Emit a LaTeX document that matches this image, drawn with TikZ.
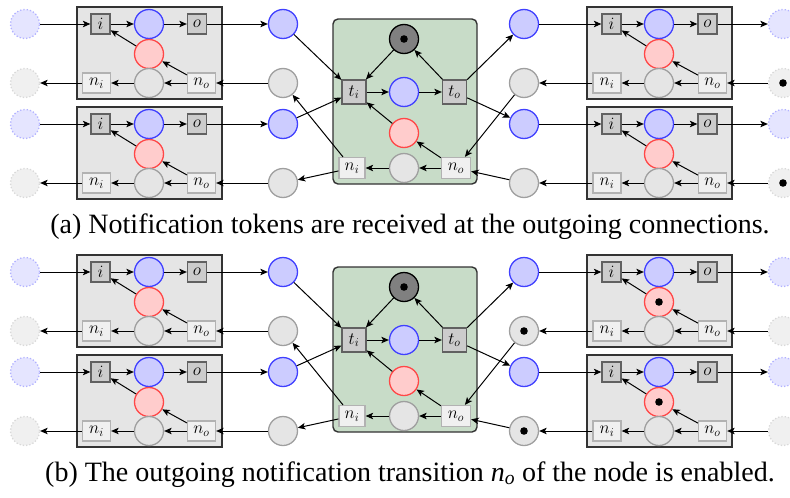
\documentclass[tikz,border=0pt]{standalone}
\usepackage{fontspec}
\newfontfamily\capfont{Liberation Serif}
\usetikzlibrary{arrows.meta}

\definecolor{netgreen}{RGB}{200,220,200}

\tikzset{
  lbl/.style={font=\fontsize{18}{21}\selectfont},
  place/.style={circle, draw, line width=1.3pt, minimum size=29pt, inner sep=0pt},
  bpl/.style={place, fill=blue!20, draw=blue!75},
  rpl/.style={place, fill=red!20, draw=red!72},
  gpl/.style={place, fill=gray!20, draw=gray!75},
  dbpl/.style={place, fill=blue!10, draw=blue!30, dotted},
  dgpl/.style={place, fill=gray!12, draw=gray!30, dotted},
  kpl/.style={place, fill=gray, draw=black},
  tok/.style={path picture={\fill[black] (path picture bounding box.center) circle (3.8pt);}},
  notok/.style={},
  tr/.style={rectangle, draw=black!62, fill=gray!40, line width=1.3pt,
             minimum width=19pt, minimum height=20pt, inner sep=0pt, lbl},
  ttr/.style={tr, minimum width=24pt, minimum height=24pt},
  ntr/.style={rectangle, draw=gray!60, fill=gray!12, line width=1.3pt,
              minimum width=28pt, minimum height=20pt, inner sep=0pt, lbl},
  modbox/.style={rectangle, draw=black!80, fill=gray!20, line width=1.4pt,
                 minimum width=145pt, minimum height=92pt, inner sep=0pt},
  netbox/.style={rectangle, draw=black!80, fill=netgreen, line width=1.4pt,
                 rounded corners=5pt, minimum width=144pt, minimum height=165pt, inner sep=0pt},
  arr/.style={-{Stealth[length=7.5pt,width=6.5pt,inset=1.8pt]}, line width=1pt, black},
  capt/.style={font=\capfont\fontsize{28}{32}\selectfont, anchor=base, inner sep=0pt},
}

% #1 name prefix, #2 vertical offset, #3 token style of the outer notification places,
% #4 token style of the right-hand notification places, #5 caption
\newcommand\netpanel[5]{%
\begin{scope}[yshift=-#2pt, name prefix=#1-]
  % neighbouring modules on the left
  \foreach \dy/\k in {0/1,100/2}{
    \node[modbox] (Lbox\k) at (149.5,53+\dy) {};
    \node[dbpl] (Ldb\k) at (25,24+\dy) {};
    \node[dgpl] (Ldg\k) at (25,83+\dy) {};
    \node[tr]  (Li\k)  at (100.5,24+\dy) {$i$};
    \node[bpl] (Lb\k)  at (149,24+\dy) {};
    \node[tr]  (Lo\k)  at (197,24+\dy) {$o$};
    \node[rpl] (Lr\k)  at (149,54+\dy) {};
    \node[gpl] (Lg\k)  at (149,83+\dy) {};
    \node[ntr] (Lni\k) at (96.5,83+\dy) {$n_i$};
    \node[ntr] (Lno\k) at (201.5,83+\dy) {$n_o$};
    \node[bpl] (Ob\k)  at (283,24+\dy) {};
    \node[gpl] (Og\k)  at (283,83+\dy) {};
    \draw[arr] (Ldb\k) -- (Li\k);
    \draw[arr] (Li\k) -- (Lb\k);
    \draw[arr] (Lb\k) -- (Lo\k);
    \draw[arr] (Lo\k) -- (Ob\k);
    \draw[arr] (Og\k) -- (Lno\k);
    \draw[arr] (Lno\k) -- (Lg\k);
    \draw[arr] (Lg\k) -- (Lni\k);
    \draw[arr] (Lni\k) -- (Ldg\k);
    \draw[arr] (Lr\k) -- (Li\k);
    \draw[arr] (Lno\k) -- (Lr\k);
  }
  % neighbouring modules on the right
  \foreach \dy/\k in {0/1,100/2}{
    \node[modbox] (Rbox\k) at (659.5,53+\dy) {};
    \node[bpl] (Pb\k)  at (524,24+\dy) {};
    \node[gpl,#4] (Pg\k) at (524,83+\dy) {};
    \node[tr]  (Ri\k)  at (611.5,24+\dy) {$i$};
    \node[bpl] (Rb\k)  at (659,24+\dy) {};
    \node[tr]  (Ro\k)  at (707.5,24+\dy) {$o$};
    \node[rpl,#4] (Rr\k) at (659,54+\dy) {};
    \node[gpl] (Rg\k)  at (659,83+\dy) {};
    \node[ntr] (Rni\k) at (607,83+\dy) {$n_i$};
    \node[ntr] (Rno\k) at (712.5,83+\dy) {$n_o$};
    \node[dbpl] (Rdb\k) at (783,24+\dy) {};
    \node[dgpl,#3] (Rdg\k) at (783,83+\dy) {};
    \draw[arr] (Pb\k) -- (Ri\k);
    \draw[arr] (Ri\k) -- (Rb\k);
    \draw[arr] (Rb\k) -- (Ro\k);
    \draw[arr] (Ro\k) -- (Rdb\k);
    \draw[arr] (Rdg\k) -- (Rno\k);
    \draw[arr] (Rno\k) -- (Rg\k);
    \draw[arr] (Rg\k) -- (Rni\k);
    \draw[arr] (Rni\k) -- (Pg\k);
    \draw[arr] (Rr\k) -- (Ri\k);
    \draw[arr] (Rno\k) -- (Rr\k);
  }
  % the node itself
  \node[netbox] (net) at (405,101.5) {};
  \node[kpl,tok] (cap) at (404,39) {};
  \node[ttr] (ti) at (354,92) {$t_i$};
  \node[bpl] (cb) at (404,92) {};
  \node[ttr] (to) at (454.5,92) {$t_o$};
  \node[rpl] (cr) at (404,133) {};
  \node[gpl] (cg) at (404,168) {};
  \node[ntr, minimum width=26pt, minimum height=21pt] (cni) at (352,168) {$n_i$};
  \node[ntr, minimum width=29pt, minimum height=21pt] (cno) at (456,168) {$n_o$};
  \draw[arr] (Ob1) -- (ti);
  \draw[arr] (Ob2) -- (ti);
  \draw[arr] (cni) -- (Og1);
  \draw[arr] (cni) -- (Og2);
  \draw[arr] (cap) -- (ti);
  \draw[arr] (to) -- (cap);
  \draw[arr] (ti) -- (cb);
  \draw[arr] (cb) -- (to);
  \draw[arr] (cr) -- (ti);
  \draw[arr] (cno) -- (cr);
  \draw[arr] (cno) -- (cg);
  \draw[arr] (cg) -- (cni);
  \draw[arr] (to) -- (Pb1);
  \draw[arr] (to) -- (Pb2);
  \draw[arr] (Pg1) -- (cno);
  \draw[arr] (Pg2) -- (cno);
  \node[capt] (caption) at (410,233) {#5};
\end{scope}}

\begin{document}
\begin{tikzpicture}[x=1pt, y=-1pt]
  \useasboundingbox (0,0) rectangle (790,498);
  \clip (0,0) rectangle (790,498);
  \netpanel{a}{0}{tok}{notok}{(a) Notification tokens are received at the outgoing connections.}
  \netpanel{b}{248}{notok}{tok}{(b) The outgoing notification transition \textit{n}\textsubscript{\textit{o}} of the node is enabled.}
\end{tikzpicture}
\end{document}
